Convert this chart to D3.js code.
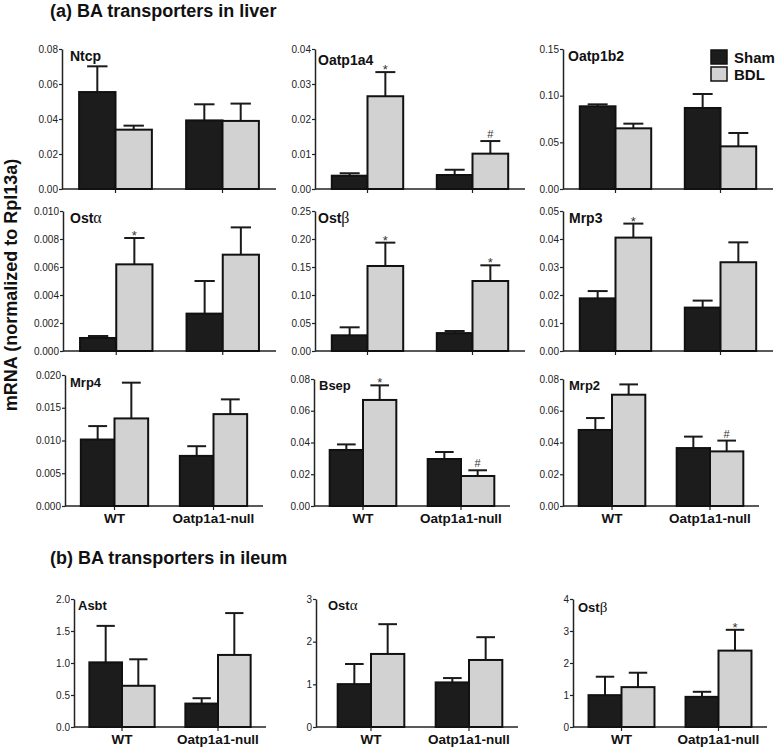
<!DOCTYPE html>
<html><head><meta charset="utf-8">
<script src="https://cdn.jsdelivr.net/npm/d3@7"></script>
<style>body{margin:0;background:#fff}</style>
</head><body>
<svg id="c" width="777" height="748"></svg>
<script>
// ---------- data ----------
const genotypes = ["WT", "Oatp1a1-null"];
const groups = ["Sham", "BDL"];
const geneBase  = ["Ntcp","Oatp1a4","Oatp1b2","Ost","Ost","Mrp3","Mrp4","Bsep","Mrp2","Asbt","Ost","Ost"];
const geneGreek = ["","","","α","β","","","","","","α","β"];
const yMax      = [0.08,0.04,0.15,0.010,0.25,0.05,0.020,0.08,0.08,2,3,4];
const yStep     = [0.02,0.01,0.05,0.002,0.05,0.01,0.005,0.02,0.02,0.5,1,1];
const yDecimals = [2,2,2,3,2,2,3,2,2,1,0,0];
const shamMean = [[0.0554,0.0392],[0.0038,0.0040],[0.0886,0.0868],[0.00093,0.00267],[0.028,0.032],[0.0188,0.0155],[0.01015,0.00765],[0.0353,0.0296],[0.0479,0.0365],[1.01,0.366],[1.005,1.045],[0.995,0.942]];
const shamTop  = [[0.0701,0.0484],[0.0045,0.0055],[0.0907,0.1018],[0.00107,0.0050],[0.0423,0.0357],[0.0214,0.018],[0.0122,0.00913],[0.0388,0.034],[0.0554,0.0437],[1.58,0.45],[1.476,1.147],[1.571,1.1]];
const bdlMean  = [[0.0339,0.0389],[0.0265,0.0101],[0.065,0.0457],[0.00619,0.00688],[0.1518,0.125],[0.0405,0.0317],[0.01337,0.01403],[0.0668,0.0189],[0.0701,0.0344],[0.644,1.126],[1.712,1.571],[1.246,2.387]];
const bdlTop   = [[0.0362,0.0488],[0.0334,0.0137],[0.070,0.060],[0.00807,0.00883],[0.1935,0.153],[0.0455,0.0388],[0.01883,0.01628],[0.076,0.0225],[0.0766,0.0412],[1.058,1.78],[2.41,2.105],[1.696,3.037]];
const bdlMarks = [["",""],["*","#"],["",""],["*",""],["*","*"],["*",""],["",""],["*","#"],["","#"],["",""],["",""],["","*"]];
const titles = ["(a)  BA transporters in liver", "(b)  BA transporters in ileum"];
const yTitle = "mRNA (normalized to Rpl13a)";

// ---------- layout (positions only) ----------
const layout = [
  {x0:62, x1:276, yT:49,  yB:189, lx:8, ly:12, fs:14, xl:false},
  {x0:315,x1:525, yT:49,  yB:189, lx:3, ly:16, fs:14, xl:false},
  {x0:563,x1:773, yT:49,  yB:189, lx:5, ly:12, fs:14, xl:false},
  {x0:63, x1:276, yT:211, yB:351, lx:7, ly:12, fs:14, xl:false},
  {x0:315,x1:525, yT:211, yB:351, lx:3, ly:12, fs:14, xl:false},
  {x0:563,x1:773, yT:211, yB:351, lx:6, ly:12, fs:14, xl:false},
  {x0:65, x1:263, yT:375, yB:506, lx:5, ly:12, fs:13, xl:true},
  {x0:314,x1:510, yT:379, yB:506, lx:5, ly:11, fs:13, xl:true},
  {x0:563,x1:759, yT:379, yB:506, lx:6, ly:11, fs:13, xl:true},
  {x0:74, x1:266, yT:599, yB:727, lx:4, ly:11, fs:13, xl:true},
  {x0:316,x1:518, bx0:322, yT:599, yB:727, lx:12, ly:11, fs:13, xl:true},
  {x0:573,x1:767, yT:599, yB:727, lx:5, ly:13, fs:13, xl:true}
];

const svg = d3.select("#c");
const FONT = "Liberation Sans, Arial, sans-serif";
const colors = {Sham:"#1c1c1c", BDL:"#d2d2d2"};

// titles
svg.append("text").attr("x",50).attr("y",17).text(titles[0])
  .attr("font-family",FONT).attr("font-weight","bold").attr("font-size",18).attr("fill","#111");
svg.append("text").attr("x",50).attr("y",564).text(titles[1])
  .attr("font-family",FONT).attr("font-weight","bold").attr("font-size",18).attr("fill","#111");
// y title
svg.append("text").attr("transform","translate(17,285) rotate(-90)").attr("text-anchor","middle")
  .text(yTitle).attr("font-family",FONT).attr("font-weight","bold").attr("font-size",18).attr("fill","#111");

layout.forEach((L, i) => {
  const g = svg.append("g");
  const y = d3.scaleLinear().domain([0, yMax[i]]).range([L.yB, L.yT]);
  const x = d3.scaleBand().domain(genotypes).range([L.bx0 || L.x0, L.x1]).paddingInner(0.32).paddingOuter(0.16);
  const xs = d3.scaleBand().domain(groups).range([0, x.bandwidth()]);

  const ticks = d3.range(0, yMax[i] + yStep[i] / 2, yStep[i]);
  const ax = g.append("g").attr("transform", `translate(${L.x0},0)`)
    .call(d3.axisLeft(y).tickValues(ticks).tickFormat(d => d.toFixed(yDecimals[i])).tickSize(3).tickPadding(1).tickSizeOuter(0));
  ax.select(".domain").attr("stroke","#222").attr("stroke-width",1.5);
  ax.selectAll(".tick line").attr("stroke","#222").attr("stroke-width",1.2);
  ax.selectAll(".tick text").attr("font-family",FONT).attr("font-size",10).attr("fill","#222");

  const bx = g.append("g").attr("transform", `translate(0,${L.yB})`)
    .call(d3.axisBottom(x).tickSize(4).tickFormat(""));
  bx.select(".domain").remove();
  bx.selectAll(".tick line").attr("stroke","#222").attr("stroke-width",1.2);
  g.append("line").attr("x1",L.x0).attr("x2",L.x1).attr("y1",L.yB).attr("y2",L.yB)
    .attr("stroke","#222").attr("stroke-width",1.5);

  if (L.xl) {
    genotypes.forEach(gt => {
      g.append("text").attr("x", x(gt) + x.bandwidth() / 2).attr("y", L.yB + 17)
        .attr("text-anchor","middle").text(gt)
        .attr("font-family",FONT).attr("font-weight","bold").attr("font-size",13.5).attr("fill","#111");
    });
  }

  const rows = [];
  genotypes.forEach((gt, k) => {
    rows.push({gt, grp:"Sham", v:shamMean[i][k], top:shamTop[i][k], mark:""});
    rows.push({gt, grp:"BDL",  v:bdlMean[i][k],  top:bdlTop[i][k],  mark:bdlMarks[i][k]});
  });

  rows.forEach(r => {
    const bxp = x(r.gt) + xs(r.grp);
    const bw = xs.bandwidth();
    const cx = bxp + bw / 2;
    const capW = bw * 0.56;
    g.append("line").attr("x1",cx).attr("x2",cx).attr("y1",y(r.v)).attr("y2",y(r.top))
      .attr("stroke","#1a1a1a").attr("stroke-width",2);
    g.append("line").attr("x1",cx - capW/2).attr("x2",cx + capW/2).attr("y1",y(r.top)).attr("y2",y(r.top))
      .attr("stroke","#1a1a1a").attr("stroke-width",2);
    g.append("rect").attr("x",bxp).attr("y",y(r.v)).attr("width",bw).attr("height",L.yB - y(r.v))
      .attr("fill",colors[r.grp]).attr("stroke","#111").attr("stroke-width",2);
    if (r.mark) {
      const isStar = r.mark === "*";
      g.append("text").attr("x",cx).attr("y", y(r.top) + (isStar ? 2 : -3))
        .attr("text-anchor","middle").text(r.mark)
        .attr("font-family",FONT).attr("font-size", isStar ? 13 : 11).attr("fill","#333");
    }
  });

  const lbl = g.append("text").attr("x", L.x0 + L.lx).attr("y", L.yT + L.ly)
    .attr("font-family",FONT).attr("font-weight","bold").attr("font-size",L.fs).attr("fill","#111");
  lbl.append("tspan").text(geneBase[i]);
  if (geneGreek[i]) lbl.append("tspan").text(geneGreek[i])
      .attr("font-family","Liberation Serif, DejaVu Serif, serif").attr("font-weight","normal").attr("font-size",L.fs + 2);
});

// legend
const leg = svg.append("g");
groups.forEach((grp, k) => {
  leg.append("rect").attr("x",711).attr("y",50 + k * 17).attr("width",16).attr("height",14)
    .attr("fill",colors[grp]).attr("stroke","#111").attr("stroke-width",1.5);
  leg.append("text").attr("x",734).attr("y",63 + k * 17).text(grp)
    .attr("font-family",FONT).attr("font-weight","bold").attr("font-size",15).attr("fill","#111");
});
</script>
</body></html>
